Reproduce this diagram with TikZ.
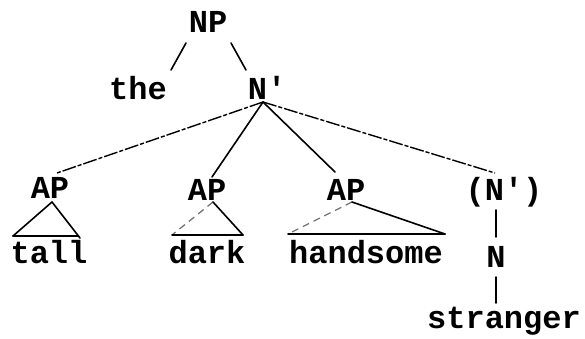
\documentclass[tikz,border=0pt]{standalone}
\usepackage{fontspec}
\setmonofont{Liberation Mono}
\begin{document}
\begin{tikzpicture}[x=1pt,y=-1pt,
  lbl/.style={anchor=base,inner sep=0pt,font=\fontsize{32}{36}\selectfont\ttfamily\bfseries},
  edge/.style={line width=1.6pt,line cap=round},
  faint/.style={line width=1.3pt,black!55,dash pattern=on 7pt off 5pt},
  broken/.style={line width=1.4pt,dash pattern=on 14pt off 2pt on 4pt off 2pt}]
\useasboundingbox (0,0) rectangle (585,339);
\node[lbl] (np) at (208,33) {NP};
\node[lbl] (the) at (138,100) {the};
\node[lbl] (nbar) at (267,100) {N'};
\node[lbl] (ap1) at (50,198) {AP};
\node[lbl] (ap2) at (207,200) {AP};
\node[lbl] (ap3) at (346,200) {AP};
\node[lbl] (nbar2) at (504,200) {(N')};
\node[lbl] (tall) at (49,263) {tall};
\node[lbl] (dark) at (207,263) {dark};
\node[lbl] (hand) at (366,263) {handsome};
\node[lbl] (n) at (496,267) {N};
\node[lbl] (str) at (504,328) {stranger};
% NP
\draw[edge] ([shift={(-22,10)}]np.base) -- ([shift={(33,-30)}]the.base);
\draw[edge] ([shift={(23,10)}]np.base) -- ([shift={(-21,-30)}]nbar.base);
% N' daughters
\draw[broken] ([shift={(-4,2)}]nbar.base) -- ([shift={(7,-25)}]ap1.base);
\draw[edge] ([shift={(-4,2)}]nbar.base) -- ([shift={(5,-23)}]ap2.base);
\draw[edge] ([shift={(-4,2)}]nbar.base) -- ([shift={(-11,-28)}]ap3.base);
\draw[broken] ([shift={(-4,2)}]nbar.base) -- ([shift={(-9,-27)}]nbar2.base);
% AP triangles
\draw[edge] ([shift={(-36,-27)}]tall.base) -- ([shift={(2,4)}]ap1.base) -- ([shift={(31,-25)}]tall.base);
\draw[edge] ([shift={(-36,-27)}]tall.base) -- ([shift={(29,-27)}]tall.base);
\draw[faint] ([shift={(6,2)}]ap2.base) -- ([shift={(-35,-28)}]dark.base);
\draw[edge] ([shift={(6,2)}]ap2.base) -- ([shift={(36,-28)}]dark.base);
\draw[edge] ([shift={(-35,-28)}]dark.base) -- ([shift={(36,-28)}]dark.base);
\draw[faint] ([shift={(6,2)}]ap3.base) -- ([shift={(-78,-29)}]hand.base);
\draw[edge] ([shift={(6,2)}]ap3.base) -- ([shift={(79,-29)}]hand.base);
\draw[edge] ([shift={(-78,-29)}]hand.base) -- ([shift={(79,-29)}]hand.base);
% N' - N - stranger
\draw[edge] ([shift={(-8,10)}]nbar2.base) -- ([shift={(0,-30)}]n.base);
\draw[edge] ([shift={(0,10)}]n.base) -- ([shift={(-8,-25)}]str.base);
\end{tikzpicture}
\end{document}
